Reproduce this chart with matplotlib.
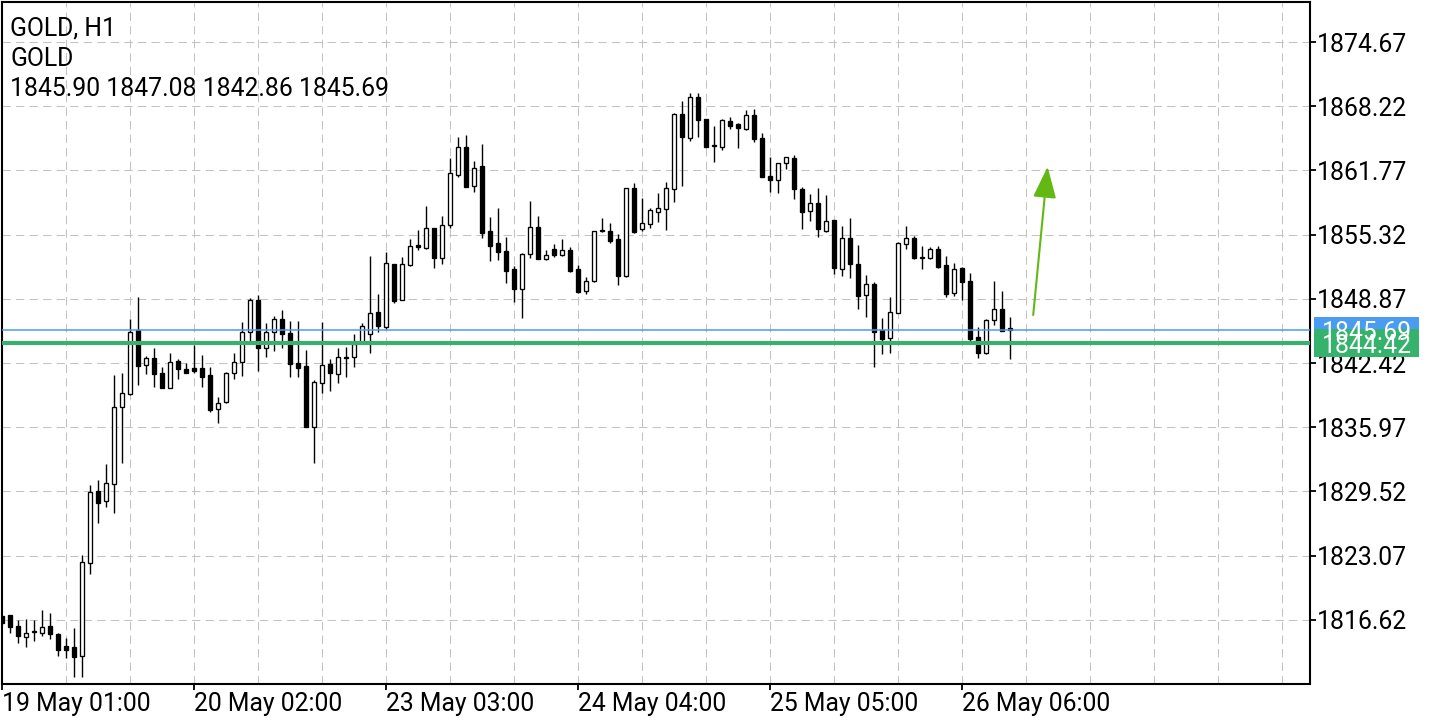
import matplotlib
matplotlib.use("Agg")
import matplotlib.pyplot as plt
import matplotlib.transforms as mtransforms
from matplotlib.patches import Rectangle

plt.rcParams['font.family'] = ['Roboto', 'DejaVu Sans']

# ---- data (GOLD, H1) ----
opens = [1816.98, 1817.08, 1815.97, 1814.85, 1815.35, 1815.30, 1815.97, 1815.24, 1813.97, 1813.84,
         1812.98, 1822.34, 1829.59, 1828.54, 1830.26, 1837.97, 1839.27, 1845.73, 1842.22, 1842.89,
         1841.38, 1839.87, 1842.62, 1841.82, 1841.89, 1841.89, 1841.21, 1837.77, 1838.47, 1841.38,
         1842.49, 1845.50, 1848.75, 1843.89, 1845.50, 1846.81, 1845.40, 1842.39, 1842.12, 1836.02,
         1840.38, 1842.29, 1841.31, 1842.90, 1842.99, 1844.56, 1845.33, 1847.51, 1846.06, 1852.34,
         1848.75, 1852.27, 1854.25, 1854.00, 1855.95, 1852.94, 1856.28, 1861.31, 1864.15, 1860.23,
         1862.21, 1855.68, 1854.50, 1853.67, 1851.86, 1849.85, 1853.37, 1856.11, 1852.87, 1853.84,
         1853.27, 1853.77, 1851.83, 1849.68, 1850.65, 1855.65, 1855.71, 1854.88, 1851.19, 1859.97,
         1855.85, 1856.38, 1857.62, 1857.86, 1859.90, 1867.41, 1865.05, 1869.11, 1866.90, 1864.30,
         1864.15, 1866.73, 1866.40, 1865.90, 1867.34, 1864.99, 1861.21, 1860.80, 1862.54, 1862.98,
         1859.87, 1857.72, 1858.46, 1855.71, 1856.78, 1851.83, 1854.95, 1852.34, 1849.25, 1850.33,
         1845.73, 1844.90, 1847.41, 1854.34, 1854.95, 1853.00, 1852.94, 1853.84, 1852.27, 1849.48,
         1851.93, 1850.66, 1845.00, 1843.39, 1846.74, 1847.81, 1845.90]
highs = [1817.05, 1817.10, 1816.58, 1816.75, 1816.58, 1817.60, 1817.33, 1815.30, 1814.76, 1815.76,
         1823.13, 1830.15, 1830.65, 1832.26, 1841.21, 1841.38, 1846.81, 1849.08, 1843.12, 1843.90,
         1841.99, 1843.39, 1842.82, 1842.39, 1844.23, 1843.22, 1841.99, 1839.03, 1841.50, 1843.39,
         1846.56, 1848.92, 1849.25, 1846.40, 1847.14, 1847.74, 1846.67, 1846.64, 1843.72, 1840.71,
         1846.50, 1842.79, 1843.96, 1844.06, 1845.33, 1846.47, 1853.17, 1849.35, 1853.54, 1852.40,
         1853.10, 1854.88, 1855.78, 1858.19, 1856.00, 1857.22, 1862.98, 1865.09, 1865.33, 1862.71,
         1864.42, 1857.05, 1857.96, 1855.05, 1852.16, 1853.44, 1858.69, 1857.18, 1853.77, 1854.34,
         1854.85, 1854.10, 1852.26, 1851.03, 1855.70, 1856.96, 1856.45, 1855.35, 1860.00, 1860.47,
         1858.96, 1857.96, 1859.47, 1860.63, 1867.51, 1868.74, 1869.52, 1869.52, 1866.95, 1866.23,
         1866.90, 1867.10, 1866.50, 1867.84, 1867.91, 1865.50, 1863.08, 1862.50, 1863.10, 1863.32,
         1860.13, 1859.40, 1859.97, 1859.30, 1856.80, 1856.18, 1856.96, 1854.27, 1851.26, 1850.59,
         1846.91, 1849.02, 1854.60, 1856.18, 1855.17, 1854.17, 1854.10, 1854.17, 1853.17, 1852.44,
         1852.09, 1851.43, 1846.01, 1846.81, 1850.66, 1849.65, 1847.08]
lows = [1816.20, 1815.30, 1814.24, 1813.84, 1814.50, 1814.97, 1814.67, 1812.99, 1812.81, 1810.84,
        1810.84, 1821.27, 1826.30, 1827.98, 1827.38, 1832.34, 1839.20, 1840.21, 1841.28, 1840.04,
        1839.87, 1839.87, 1840.81, 1841.38, 1841.44, 1840.04, 1837.53, 1836.42, 1838.40, 1840.81,
        1841.11, 1844.56, 1841.65, 1843.05, 1843.65, 1843.96, 1841.04, 1841.04, 1836.02, 1832.34,
        1839.44, 1839.64, 1840.38, 1841.04, 1841.99, 1844.50, 1843.45, 1845.56, 1845.80, 1848.48,
        1848.70, 1852.20, 1853.77, 1853.87, 1851.93, 1852.34, 1855.95, 1861.08, 1860.07, 1859.63,
        1854.95, 1852.69, 1852.76, 1850.48, 1848.51, 1846.97, 1852.94, 1852.83, 1852.80, 1853.10,
        1853.20, 1851.60, 1849.50, 1849.32, 1850.60, 1855.55, 1854.50, 1850.25, 1851.10, 1855.45,
        1855.70, 1855.95, 1856.61, 1855.78, 1858.62, 1860.20, 1864.75, 1865.10, 1864.10, 1862.64,
        1863.82, 1865.90, 1864.05, 1865.83, 1864.65, 1861.07, 1859.63, 1859.53, 1861.88, 1858.87,
        1855.85, 1856.71, 1855.05, 1855.61, 1851.36, 1851.19, 1850.99, 1847.81, 1847.01, 1841.99,
        1843.29, 1843.39, 1847.40, 1853.87, 1852.90, 1851.83, 1852.83, 1852.00, 1849.08, 1849.15,
        1848.75, 1844.66, 1842.89, 1843.30, 1846.24, 1845.60, 1842.86]
closes = [1816.25, 1815.85, 1814.97, 1815.30, 1815.45, 1815.85, 1815.17, 1813.63, 1813.63, 1812.91,
          1822.44, 1829.42, 1828.37, 1830.32, 1838.03, 1839.37, 1845.56, 1842.14, 1842.89, 1841.28,
          1839.87, 1842.55, 1841.79, 1841.44, 1841.65, 1841.04, 1837.70, 1838.43, 1841.44, 1842.55,
          1845.50, 1848.75, 1843.96, 1845.56, 1846.81, 1845.30, 1842.29, 1841.89, 1836.02, 1840.48,
          1842.22, 1841.38, 1842.99, 1843.05, 1844.33, 1846.16, 1847.47, 1846.13, 1852.44, 1848.65,
          1852.34, 1854.20, 1854.10, 1855.95, 1852.94, 1856.28, 1861.48, 1864.15, 1860.13, 1862.04,
          1855.45, 1854.17, 1853.60, 1851.69, 1849.82, 1853.34, 1856.11, 1852.83, 1853.27, 1853.24,
          1853.77, 1851.69, 1849.58, 1850.69, 1855.68, 1855.75, 1854.71, 1851.16, 1859.97, 1855.61,
          1856.45, 1857.79, 1857.96, 1859.97, 1867.41, 1865.16, 1869.11, 1866.83, 1864.15, 1864.20,
          1866.83, 1866.23, 1866.06, 1867.34, 1864.89, 1861.14, 1860.80, 1862.48, 1863.08, 1859.87,
          1857.62, 1858.46, 1855.85, 1856.71, 1851.93, 1854.95, 1852.34, 1849.18, 1850.33, 1845.56,
          1844.83, 1847.51, 1854.50, 1854.95, 1852.94, 1853.05, 1853.84, 1852.09, 1849.35, 1851.83,
          1850.59, 1844.80, 1843.39, 1846.74, 1847.81, 1845.63, 1845.69]

date_ticks = [0, 24, 48, 72, 96, 120]
date_labels = ["19 May 01:00", "20 May 02:00", "23 May 03:00",
               "24 May 04:00", "25 May 05:00", "26 May 06:00"]
price_ticks = [1816.62, 1823.07, 1829.52, 1835.97, 1842.42,
               1848.87, 1855.32, 1861.77, 1868.22, 1874.67]
bid_price = 1845.69
level_price = 1844.42
arrow_start = (128.9, 1847.24)
arrow_end = (130.7, 1862.14)
symbol = "GOLD"
timeframe = "H1"

FS = 17.8

# ---- figure ----
W, H = 1440, 720
fig = plt.figure(figsize=(W / 100, H / 100), dpi=100)
ax_l, ax_r, ax_t, ax_b = 2, 1310, 2, 683.5
ax = fig.add_axes([ax_l / W, 1 - ax_b / H, (ax_r - ax_l) / W, (ax_b - ax_t) / H])

n = len(opens)
xs = list(range(n))
ax.set_xlim(0, (ax_r - ax_l) / 8.0)
ax.set_ylim(1810.22, 1878.69)

# grid
grid_kw = dict(color='#c3c3c3', lw=0.75, linestyle=(0, (8, 5)), zorder=0)
for p in price_ticks:
    ax.axhline(p, **grid_kw)
for gx in range(8, 164, 8):
    ax.axvline(gx, **grid_kw)

# wicks
ax.vlines(xs, lows, highs, color='black', lw=1.0, zorder=2)
# bodies
bottoms = [min(o, c) for o, c in zip(opens, closes)]
heights = [max(abs(c - o), 0.08) for o, c in zip(opens, closes)]
fcols = ['white' if c > o else 'black' for o, c in zip(opens, closes)]
ax.bar(xs, heights, bottom=bottoms, width=0.5, color=fcols, edgecolor='black',
       linewidth=0.95, zorder=3)

# price lines
ax.axhline(bid_price, color='#4a9cf0', lw=1.1, zorder=4)
ax.axhline(level_price, color='#35b36c', lw=2.9, zorder=4)

# arrow
ax.annotate('', xy=arrow_end, xytext=arrow_start,
            arrowprops=dict(arrowstyle='-|>,head_length=0.97,head_width=0.36',
                            color='#63b814', lw=1.5, mutation_scale=20,
                            shrinkA=0, shrinkB=0), zorder=5)

# axes styling
for s in ax.spines.values():
    s.set_linewidth(1.5)
    s.set_color('black')
ax.yaxis.tick_right()
ax.set_yticks(price_ticks)
ax.set_yticklabels([f"{p:.2f}" for p in price_ticks])
ax.set_xticks(date_ticks)
ax.set_xticklabels(date_labels, ha='left')
ax.tick_params(axis='y', length=4, width=1.3, pad=1.0, labelsize=FS, colors='black')
ax.tick_params(axis='x', length=4, width=1.3, pad=2.0, labelsize=FS, colors='black')

# price tags on the right axis
blend = mtransforms.blended_transform_factory(ax.transAxes, ax.transData)
tag_w = 105 / (ax_r - ax_l)
tag_x0 = 4 / (ax_r - ax_l) + 1.0
half_h = 13.7 / 9.953
for price, col in [(bid_price, '#4a9cf0'), (level_price, '#35b36c')]:
    ax.add_patch(Rectangle((tag_x0, price - half_h), tag_w, 2 * half_h,
                           transform=blend, facecolor=col, edgecolor='none',
                           clip_on=False, zorder=6))
    ax.text(tag_x0 + 8 / (ax_r - ax_l), price, f"{price:.2f}", transform=blend,
            color='white', fontsize=FS, va='center_baseline', ha='left',
            clip_on=False, zorder=7)

# header
ohlc_last = f"{opens[-1]:.2f} {highs[-1]:.2f} {lows[-1]:.2f} {closes[-1]:.2f}"
for i, txt in enumerate([f"{symbol}, {timeframe}", symbol, ohlc_last]):
    fig.text(10 / W, 1 - (35.5 + 30 * i) / H, txt, fontsize=FS, va='baseline',
             ha='left', color='black')

fig.savefig('out.png', dpi=100)
